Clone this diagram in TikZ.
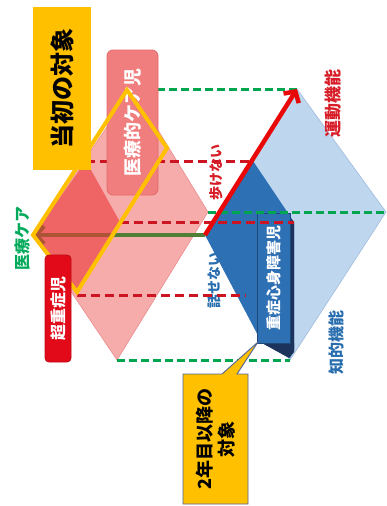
\documentclass[tikz,border=0pt]{standalone}
\usepackage{fontspec}
\setmainfont{Noto Sans CJK JP}
\usetikzlibrary{arrows.meta}
\definecolor{pinkA}{RGB}{247,172,172}
\definecolor{pinkE}{RGB}{236,140,140}
\definecolor{redB}{RGB}{235,55,55}
\definecolor{redA}{RGB}{232,8,8}
\definecolor{redD}{RGB}{205,20,35}
\definecolor{redT}{RGB}{215,30,40}
\definecolor{greenD}{RGB}{0,165,80}
\definecolor{greenA}{RGB}{80,128,55}
\definecolor{greenT}{RGB}{0,170,90}
\definecolor{blueL}{RGB}{190,214,238}
\definecolor{blueE}{RGB}{160,188,222}
\definecolor{blueD}{RGB}{46,112,180}
\definecolor{blueN}{RGB}{28,52,92}
\definecolor{blueB}{RGB}{30,72,120}
\definecolor{blueT}{RGB}{40,110,175}
\definecolor{orangeA}{RGB}{255,192,0}
\definecolor{calloutE}{RGB}{80,100,150}
\definecolor{mcbox}{RGB}{240,126,126}
\definecolor{mcboxE}{RGB}{226,104,104}
\definecolor{srbox}{RGB}{226,10,24}
\definecolor{srboxE}{RGB}{190,10,20}
\tikzset{
  gdash/.style={draw=greenD, line width=3pt, dash pattern=on 8pt off 4pt},
  rdash/.style={draw=redD, line width=3pt, dash pattern=on 9pt off 5pt},
  vlabel/.style={rotate=90, inner sep=0pt, align=center},
  fatarrow/.style={line width=4.5pt, -{Straight Barb[length=8pt,width=18pt]}},
}
\begin{document}
\begin{tikzpicture}[x=1pt,y=-1pt]
\useasboundingbox (0,0) rectangle (387,506);
\fill[white] (0,0) rectangle (387,506);

% key points
\coordinate (pL) at (33,235);
\coordinate (pT) at (133,89);
\coordinate (pR) at (208,212);
\coordinate (pB) at (117,360);
\coordinate (bL) at (205,235);
\coordinate (bT) at (297,89);
\coordinate (bR) at (386,212);
\coordinate (bB) at (290,360);
\coordinate (rT) at (86,161);
\coordinate (rR) at (120,222);
\coordinate (rB) at (77,295);
\coordinate (dT) at (253,161);
\coordinate (dR) at (294,222);
\coordinate (dB) at (246,295);
\coordinate (oT) at (127,90);
\coordinate (oR) at (167,148);
\coordinate (oB) at (77,292);

% pink diamond
\fill[pinkA, draw=pinkE, line width=0.6pt] (pL)--(pT)--(pR)--(pB)--cycle;
% green horizontal arrow (medical care)
\draw[fatarrow, greenA] (bL) -- (pL);
% darker red region
\fill[redB, opacity=0.6] (pL)--(rT)--(rR)--(rB)--cycle;
% light blue diamond
\fill[blueL, draw=blueE, line width=0.6pt] (bL)--(bT)--(bR)--(bB)--cycle;
% text partially hidden by dark blue
\node[vlabel, text=blueT, font=\fontsize{14}{16}\selectfont\bfseries] (hanasenai) at (214,280) {話せない};
% dark blue region
\fill[blueD] (bL)--(dT)--(dR)--(294,350)--(290,358)--(262,343)--cycle;
\fill[blueN] (290,218)--(294,222)--(294,350)--(290,343)--cycle;
\fill[blueN] (262,343)--(294,343)--(294,352)--(289,358)--cycle;
\node[vlabel, fill=blueD, draw=blueB, line width=0.8pt, minimum width=130pt, minimum height=33pt,
      text=white, font=\fontsize{15}{17}\selectfont\bfseries] (jushin) at (273.5,278) {重症心身障害児};

% dashed guide lines
\draw[gdash] (pT) -- (bT);
\draw[gdash] (pR) -- (bR);
\draw[gdash] (pB) -- (bB);
\draw[rdash] (rT) -- (dT);
\draw[rdash] (rR) -- (dR);
\draw[rdash] (rB) -- (dB);

% red arrow (motor function)
\draw[fatarrow, redA] (bL) -- (bT);

% medical care child box
\node[vlabel, fill=mcbox, draw=mcboxE, line width=0.8pt, rounded corners=6pt,
      minimum width=145pt, minimum height=51pt, text=white,
      font=\fontsize{18}{20}\selectfont\bfseries] (iryo) at (132.5,122.5) {医療的ケア児};

% orange outline
\draw[orangeA, line width=4pt] (pL)--(oT)--(oR)--(oB)--cycle;

% labels
\node[vlabel, fill=orangeA, minimum width=163pt, minimum height=58pt,
      font=\fontsize{24}{28}\selectfont\bfseries] (toshoku) at (62,88.5) {当初の対象};
\node[vlabel, fill=srbox, draw=srboxE, line width=0.8pt, rounded corners=4pt,
      minimum width=107pt, minimum height=26pt, text=white,
      font=\fontsize{16}{18}\selectfont\bfseries] (choju) at (58,308.5) {超重症児};
\node[vlabel, text=greenT, font=\fontsize{16}{18}\selectfont\bfseries] (iryocare) at (22,238) {医療ケア};
\node[vlabel, text=redT, font=\fontsize{17}{19}\selectfont\bfseries] (undo) at (333,103) {運動機能};
\node[vlabel, text=redT, font=\fontsize{14}{16}\selectfont\bfseries] (arukenai) at (216,172) {歩けない};
\node[vlabel, text=blueT, font=\fontsize{16}{18}\selectfont\bfseries] (chiteki) at (336,342) {知的機能};

% callout
\draw[fill=orangeA, draw=calloutE, line width=0.9pt]
  (183,374)--(222,374)--(258,342)--(237,374)--(248,374)--(248,504)--(183,504)--cycle;
\node[vlabel, font=\fontsize{18}{22}\selectfont\bfseries] (ninen) at (215.5,439) {2年目以降の\\対象};
\end{tikzpicture}
\end{document}
